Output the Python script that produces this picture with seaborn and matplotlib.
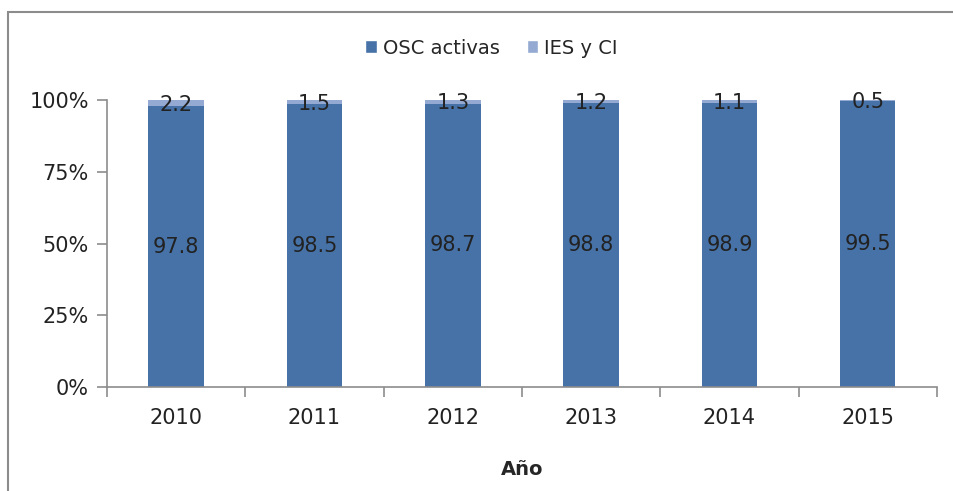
import matplotlib
matplotlib.use("Agg")
import matplotlib.pyplot as plt
import seaborn as sns
import pandas as pd
from matplotlib.patches import Patch, Rectangle

years = ["2010", "2011", "2012", "2013", "2014", "2015"]
osc = [97.8, 98.5, 98.7, 98.8, 98.9, 99.5]
ies = [2.2, 1.5, 1.3, 1.2, 1.1, 0.5]
yticks = [0, 25, 50, 75, 100]
ytick_labels = ["0%", "25%", "50%", "75%", "100%"]

c_osc = "#4672A8"
c_ies = "#94AAD2"
grey = "#8C8C8C"
txt = "#222222"
fs = 15

sns.set_theme(style="white")
plt.rcParams["font.family"] = ["DejaVu Sans"]

df = pd.DataFrame({"year": years, "osc": osc, "ies": ies})
df["total"] = df["osc"] + df["ies"]

fig = plt.figure(figsize=(9.54, 4.91), dpi=100)
ax = fig.add_axes([107/954, 1-387/491, (937-107)/954, (387-100)/491])

sns.barplot(data=df, x="year", y="total", color=c_ies, saturation=1, width=0.4, ax=ax, linewidth=0)
sns.barplot(data=df, x="year", y="osc", color=c_osc, saturation=1, width=0.4, ax=ax, linewidth=0)

for i, (o, s) in enumerate(zip(osc, ies)):
    ax.text(i, o / 2, f"{o:.1f}", ha="center", va="center", fontsize=fs, color=txt)
    ax.text(i, o + s / 2 - 0.5, f"{s:.1f}", ha="center", va="center", fontsize=fs, color=txt)

ax.set_xlim(-0.5, len(years) - 0.5)
ax.set_ylim(0, 100)
ax.set_yticks(yticks)
ax.set_yticklabels(ytick_labels, fontsize=fs, color=txt)
ax.set_xticks(range(len(years)))
ax.set_xticklabels(years, fontsize=fs, color=txt)
ax.set_xticks([i - 0.5 for i in range(len(years) + 1)], minor=True)
ax.tick_params(axis="x", which="major", length=0, pad=15)
ax.tick_params(axis="x", which="minor", length=7, width=1.2, color=grey, direction="out", bottom=True)
ax.tick_params(axis="y", length=7, width=1.2, color=grey, direction="out", left=True, pad=6)
ax.set_ylabel("")
ax.set_xlabel("Año", fontsize=14, fontweight="bold", labelpad=23)

for side in ["top", "right"]:
    ax.spines[side].set_visible(False)
for side in ["left", "bottom"]:
    ax.spines[side].set_color(grey)
    ax.spines[side].set_linewidth(1.2)

handles = [Patch(facecolor=c_osc, label="OSC activas"), Patch(facecolor=c_ies, label="IES y CI")]
fig.legend(handles=handles, loc="center", bbox_to_anchor=(0.515, 1-48/491), ncol=2, frameon=False,
           fontsize=14, handlelength=0.6, handleheight=0.6, handletextpad=0.3, columnspacing=1.4)

fig.patches.append(Rectangle((8/954, -0.05), 1.1, 1.05 - 12/491, transform=fig.transFigure,
                             fill=False, edgecolor=grey, linewidth=1.5))

fig.savefig("out.png", dpi=100)
